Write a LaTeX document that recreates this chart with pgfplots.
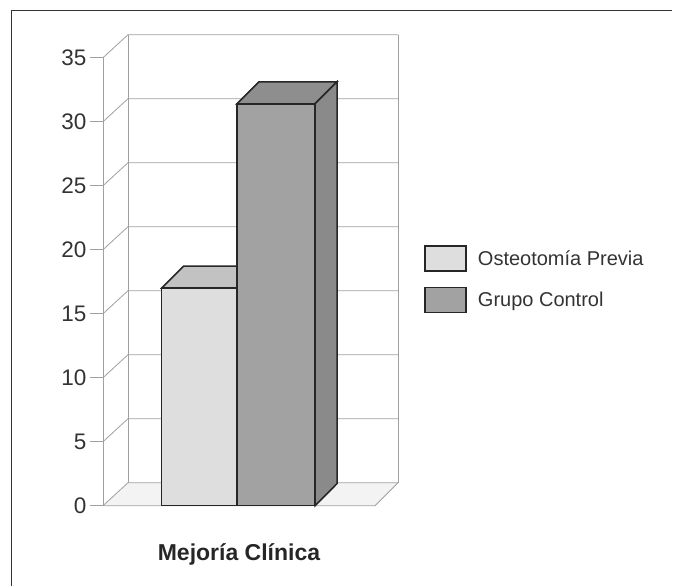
\documentclass[border=0pt]{standalone}
\usepackage{pgfplots}
\pgfplotsset{compat=1.18}
\usepackage{fontspec}
\setmainfont{Liberation Sans}
\definecolor{gridc}{HTML}{A0A0A0}
\definecolor{edgec}{HTML}{262626}
\definecolor{txtc}{HTML}{333333}
\definecolor{aFront}{HTML}{DEDEDE}
\definecolor{aTop}{HTML}{C2C2C2}
\definecolor{bFront}{HTML}{A2A2A2}
\definecolor{bTop}{HTML}{8E8E8E}
\definecolor{bSide}{HTML}{8A8A8A}
\definecolor{floorc}{HTML}{F3F3F3}
\begin{document}
\begin{tikzpicture}[x=1pt,y=1pt]
\useasboundingbox (0,0) rectangle (681,-586);
% outer frame
\draw[line width=1pt, color=txtc] (11,-586) -- (11,-11) -- (672,-11);
\begin{axis}[
  scale only axis, width=272pt, height=448pt,
  at={(103pt,-505.7pt)}, anchor=south west,
  xmin=0, xmax=272, ymin=0, ymax=35,
  clip=false,
  axis x line=none,
  axis y line*=left,
  y axis line style={draw=gridc, line width=0.8pt},
  ytick={0,5,...,35},
  tick align=outside,
  major tick length=13pt,
  ytick style={draw=gridc, line width=0.8pt},
  /pgf/number format/assume math mode=true,
  yticklabel style={font=\fontsize{22.5}{22.5}\selectfont, text=txtc},
  legend style={draw=none, fill=none, at={(1.17,0.505)}, anchor=west,
    font=\fontsize{20}{20}\selectfont, text=txtc, row sep=15pt,
    /tikz/every odd column/.append style={column sep=9pt}},
  legend cell align=left,
  legend image code/.code={\draw[#1] (0pt,-12.5pt) rectangle (41pt,12.5pt);},
]
% floor
\addplot[fill=floorc, draw=none, forget plot] coordinates {(0,0) (25,1.797) (295,1.797) (272,0)} -- cycle;
% back wall gridlines and side wall diagonals
\pgfplotsinvokeforeach{0,5,...,35}{
  \draw[gridc, line width=0.8pt] (axis cs:0,#1) -- (axis cs:25,#1+1.797) -- (axis cs:295,#1+1.797);
}
\draw[gridc, line width=0.8pt] (axis cs:25,1.797) -- (axis cs:25,36.797);
\draw[gridc, line width=0.8pt] (axis cs:295,1.797) -- (axis cs:295,36.797);
\draw[gridc, line width=0.8pt] (axis cs:0,0) -- (axis cs:272,0) -- (axis cs:295,1.797);
% bar 1: Osteotomia Previa = 17
\addplot[fill=aTop, draw=edgec, line width=1.5pt, forget plot] coordinates {(58.7,17) (80.7,18.72) (156,18.72) (134,17)} -- cycle;
\addplot[fill=aFront, draw=edgec, line width=1.5pt] coordinates {(58.7,0) (134,0) (134,17) (58.7,17)} -- cycle;
\addlegendentry{Osteotomía Previa}
% bar 2: Grupo Control = 31.4
\addplot[fill=bTop, draw=edgec, line width=1.5pt, forget plot] coordinates {(134,31.4) (156,33.12) (234,33.12) (212,31.4)} -- cycle;
\addplot[fill=bSide, draw=edgec, line width=1.5pt, forget plot] coordinates {(212,0) (234,1.72) (234,33.12) (212,31.4)} -- cycle;
\addplot[fill=bFront, draw=edgec, line width=1.5pt] coordinates {(134,0) (212,0) (212,31.4) (134,31.4)} -- cycle;
\addlegendentry{Grupo Control}
\end{axis}
\node[anchor=base, font=\fontsize{23}{23}\selectfont\bfseries, text=black!85] at (239,-560.7) {Mejoría Clínica};
\end{tikzpicture}
\end{document}
